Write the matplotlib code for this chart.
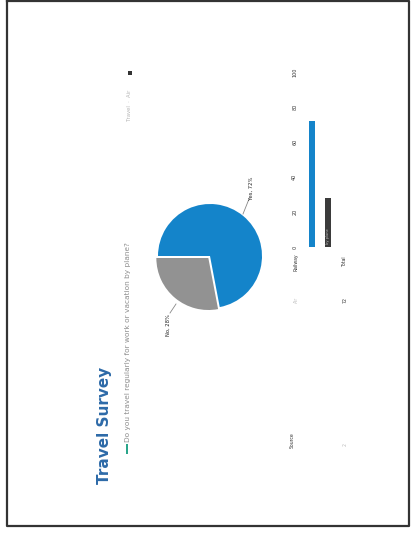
import matplotlib
matplotlib.use("Agg")
import matplotlib.pyplot as plt
from matplotlib.patches import Rectangle

# ---- data ----
pie_labels = ["Yes, 72%", "No, 28%"]
pie_values = [72, 28]
bar_categories = ["Yes", "No"]
bar_values = [72, 28]
value_ticks = [0, 20, 40, 60, 80, 100]
value_tick_labels = ["0", "20", "40", "60", "80", "100"]
title = "Travel Survey"
subtitle = "Do you travel regularly for work or vacation by plane?"

BLUE = "#1484ca"
GRAY = "#929292"
DARK = "#3b3b3b"
TITLE_C = "#2d6aa8"

W, H = 412, 536
fig = plt.figure(figsize=(W / 100, H / 100), dpi=100)
fig.patch.set_facecolor("white")

# page canvas in pixel coordinates
page = fig.add_axes([0, 0, 1, 1])
page.set_xlim(0, W)
page.set_ylim(H, 0)
page.axis("off")

# scanned page border
page.plot([7, 7, 409, 409, 7], [1, 526, 526, 1, 1], color="#333333", lw=1.6)

# title and subtitle (page rotated)
page.text(105, 425, title, rotation=90, ha="center", va="center",
          fontsize=11, fontweight="bold", color=TITLE_C)
page.add_patch(Rectangle((126, 444), 2.5, 10, color="#2aa58a", lw=0))
page.text(128, 442, subtitle, rotation=90, ha="center", va="bottom",
          fontsize=5.3, color="#8e8e8e")
# small legend-like marker at top
page.add_patch(Rectangle((128, 71), 4, 4, color="#333333", lw=0))
page.text(130, 105, "Travel  ·  Air", rotation=90, ha="center", va="center",
          fontsize=3.8, color="#b5b5b5")

# ---- pie ----
cx, cy, R = 210, 256, 52
pad = 62
pie_ax = fig.add_axes([(cx - pad) / W, (H - cy - pad) / H, 2 * pad / W, 2 * pad / H])
start = 180 - 360 * pie_values[0] / sum(pie_values)
pie_ax.pie(pie_values, colors=[BLUE, GRAY], startangle=start, counterclock=True,
           explode=[0, 0.05], wedgeprops=dict(linewidth=0))
pie_ax.set_xlim(-pad / R, pad / R)
pie_ax.set_ylim(-pad / R, pad / R)
pie_ax.set_aspect("auto")
pie_ax.axis("off")

# pie labels with leader lines
page.plot([243, 249], [214, 199], color="#888888", lw=0.6)
page.text(251, 188, pie_labels[0], rotation=90, ha="center", va="center",
          fontsize=3.8, color="#222222")
page.plot([176, 170], [304, 313], color="#888888", lw=0.6)
page.text(168, 325, pie_labels[1], rotation=90, ha="center", va="center",
          fontsize=3.8, color="#222222")

# ---- bar chart ----
base_y, top_y = 247, 72
left_px, right_px = 300, 340
bar_ax = fig.add_axes([left_px / W, (H - base_y) / H,
                       (right_px - left_px) / W, (base_y - top_y) / H])
bar_ax.bar([0, 1], bar_values, width=0.38, color=[BLUE, DARK])
bar_ax.set_xlim(-0.75, 1.75)
bar_ax.set_ylim(0, 100)
bar_ax.set_yticks(value_ticks)
bar_ax.set_yticklabels(value_tick_labels, rotation=90, fontsize=3.5,
                       color="#333333", va="center")
bar_ax.tick_params(axis="y", length=0, pad=2)
bar_ax.set_xticks([])
for s in bar_ax.spines.values():
    s.set_visible(False)
bar_ax.patch.set_alpha(0)
bar_ax.text(1, 2, "by plane", rotation=90, ha="center", va="bottom",
            fontsize=2.6, color="#bbbbbb")

# category / table text below bars
page.text(296, 262, "Railway", rotation=90, ha="center", va="center",
          fontsize=3.3, color="#333333")
page.text(345, 262, "Total", rotation=90, ha="center", va="center",
          fontsize=3.3, color="#333333")
page.text(296, 300, "Air", rotation=90, ha="center", va="center",
          fontsize=3.3, color="#bbbbbb")
page.text(345, 300, "72", rotation=90, ha="center", va="center",
          fontsize=3.3, color="#333333")
page.text(292, 440, "Source", rotation=90, ha="center", va="center",
          fontsize=3.3, color="#333333")
page.text(345, 445, "2", rotation=90, ha="center", va="center",
          fontsize=3.3, color="#bbbbbb")

fig.savefig("out.png", dpi=100, facecolor="white")
